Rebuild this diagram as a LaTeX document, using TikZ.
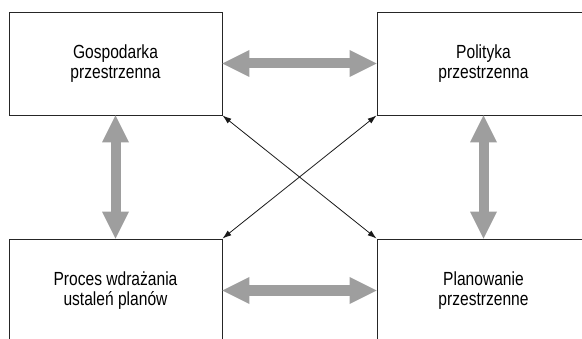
\documentclass[tikz,border=0pt]{standalone}
\usepackage{fontspec}
\setmainfont{Liberation Sans}[FakeStretch=0.82]
\usetikzlibrary{arrows.meta}

\begin{document}
\begin{tikzpicture}[x=1pt,y=1pt,
        blok/.style={draw=black!85,line width=0.9pt,minimum width=213pt,minimum height=103pt,
            inner sep=0pt,align=center,font=\fontsize{19}{20.5}\selectfont},
        gruba/.style={draw=black!38,line width=10pt,
            {Triangle[width=27pt,length=27pt,line width=0pt]}-{Triangle[width=27pt,length=27pt,line width=0pt]}},
        cienka/.style={draw=black!90,line width=0.8pt,
            {Latex[length=9pt,width=6pt]}-{Latex[length=9pt,width=6pt]}}]
        \useasboundingbox (0,0) rectangle (582,338);
        \clip (0,0) rectangle (582,338);
        % bloki
        \node[blok] (gosp) at (115.5,274.5) {Gospodarka\\przestrzenna};
        \node[blok] (pol) at (483.5,274.5) {Polityka\\przestrzenna};
        \node[blok] (proc) at (115.5,47.5) {Proces wdrażania\\ustaleń planów};
        \node[blok] (plan) at (483.5,47.5) {Planowanie\\przestrzenne};

        % strzalki szare
        \draw[gruba] (gosp) -- (pol);
        \draw[gruba] (proc) -- (plan);
        \draw[gruba] (gosp) -- (proc);
        \draw[gruba] (pol) -- (plan);

        % przekatne
        \draw[cienka] (gosp.south east) -- (plan.north west);
        \draw[cienka] (pol.south west) -- (proc.north east);
    \end{tikzpicture}
\end{document}
